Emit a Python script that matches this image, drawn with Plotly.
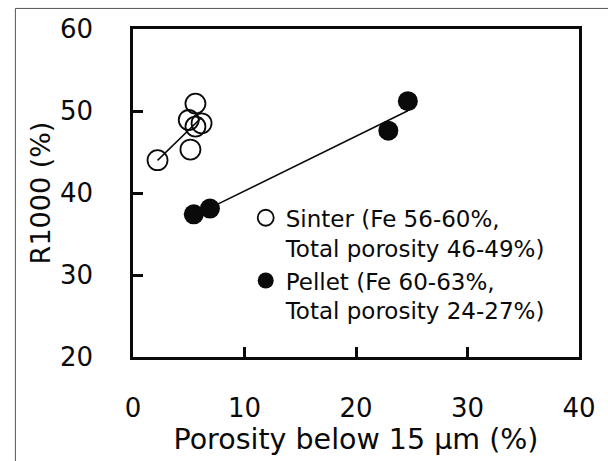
import numpy as np
import plotly.graph_objects as go

# ---- data ----
sinter_x = [2.2, 5.0, 5.6, 6.15, 5.6, 5.15]
sinter_y = [44.0, 48.9, 50.9, 48.5, 48.1, 45.3]
pellet_x = [5.45, 6.9, 22.9, 24.65]
pellet_y = [37.4, 38.1, 47.6, 51.2]

sinter_name = "Sinter (Fe 56-60%,<br>Total porosity 46-49%)"
pellet_name = "Pellet (Fe 60-63%,<br>Total porosity 24-27%)"
x_title = "Porosity below 15 μm (%)"
y_title = "R1000 (%)"
x_ticks = [0, 10, 20, 30, 40]
y_ticks = [20, 30, 40, 50, 60]

FONT = "DejaVu Sans"
INK = "#0a0a0a"


def fit_line(xs, ys):
    xs = np.asarray(xs, float)
    ys = np.asarray(ys, float)
    k, b = np.polyfit(xs, ys, 1)
    xx = np.array([xs.min(), xs.max()])
    return xx, k * xx + b


fig = go.Figure()

sx, sy = fit_line(sinter_x, sinter_y)
px, py = fit_line(pellet_x, pellet_y)
fig.add_trace(go.Scatter(x=sx, y=sy, mode="lines", line=dict(color=INK, width=1.6),
                         showlegend=False, hoverinfo="skip"))
fig.add_trace(go.Scatter(x=px, y=py, mode="lines", line=dict(color=INK, width=1.6),
                         showlegend=False, hoverinfo="skip"))

fig.add_trace(go.Scatter(x=sinter_x, y=sinter_y, mode="markers", name=sinter_name,
                         marker=dict(symbol="circle-open", size=20, color=INK,
                                     line=dict(width=1.8, color=INK))))
fig.add_trace(go.Scatter(x=pellet_x, y=pellet_y, mode="markers", name=pellet_name,
                         marker=dict(symbol="circle", size=20, color=INK,
                                     line=dict(width=0))))

axis_common = dict(
    showgrid=False, zeroline=False, showline=True, mirror=True,
    linecolor=INK, linewidth=2.6, ticks="inside", ticklen=10, tickwidth=2.5,
    tickcolor=INK, tickfont=dict(family=FONT, size=26, color=INK),
)

fig.update_xaxes(range=[0, 40], tickvals=x_ticks, ticktext=[str(v) for v in x_ticks],
                 ticklabelstandoff=26,
                 title=dict(text=x_title, font=dict(family=FONT, size=28.5, color=INK), standoff=6),
                 **axis_common)
fig.update_yaxes(range=[20, 60], tickvals=y_ticks, ticktext=[str(v) for v in y_ticks],
                 ticklabelstandoff=32,
                 title=dict(text=y_title, font=dict(family=FONT, size=27, color=INK), standoff=2),
                 **axis_common)

fig.update_layout(
    width=608, height=461,
    margin=dict(l=133, r=20, t=29, b=97),
    paper_bgcolor="white", plot_bgcolor="white",
    font=dict(family=FONT, color=INK),
    legend=dict(x=0.2527, y=0.49, xanchor="left", yanchor="top",
                bgcolor="rgba(0,0,0,0)", borderwidth=0,
                font=dict(family=FONT, size=23, color=INK),
                valign="top", itemwidth=30, tracegroupgap=0),
    shapes=[dict(type="rect", xref="paper", yref="paper",
                 x0=-0.2637, x1=1.2, y0=-0.5, y1=1.0627,
                 line=dict(color="#555555", width=1), layer="below")],
)

fig.write_html("out.html")
